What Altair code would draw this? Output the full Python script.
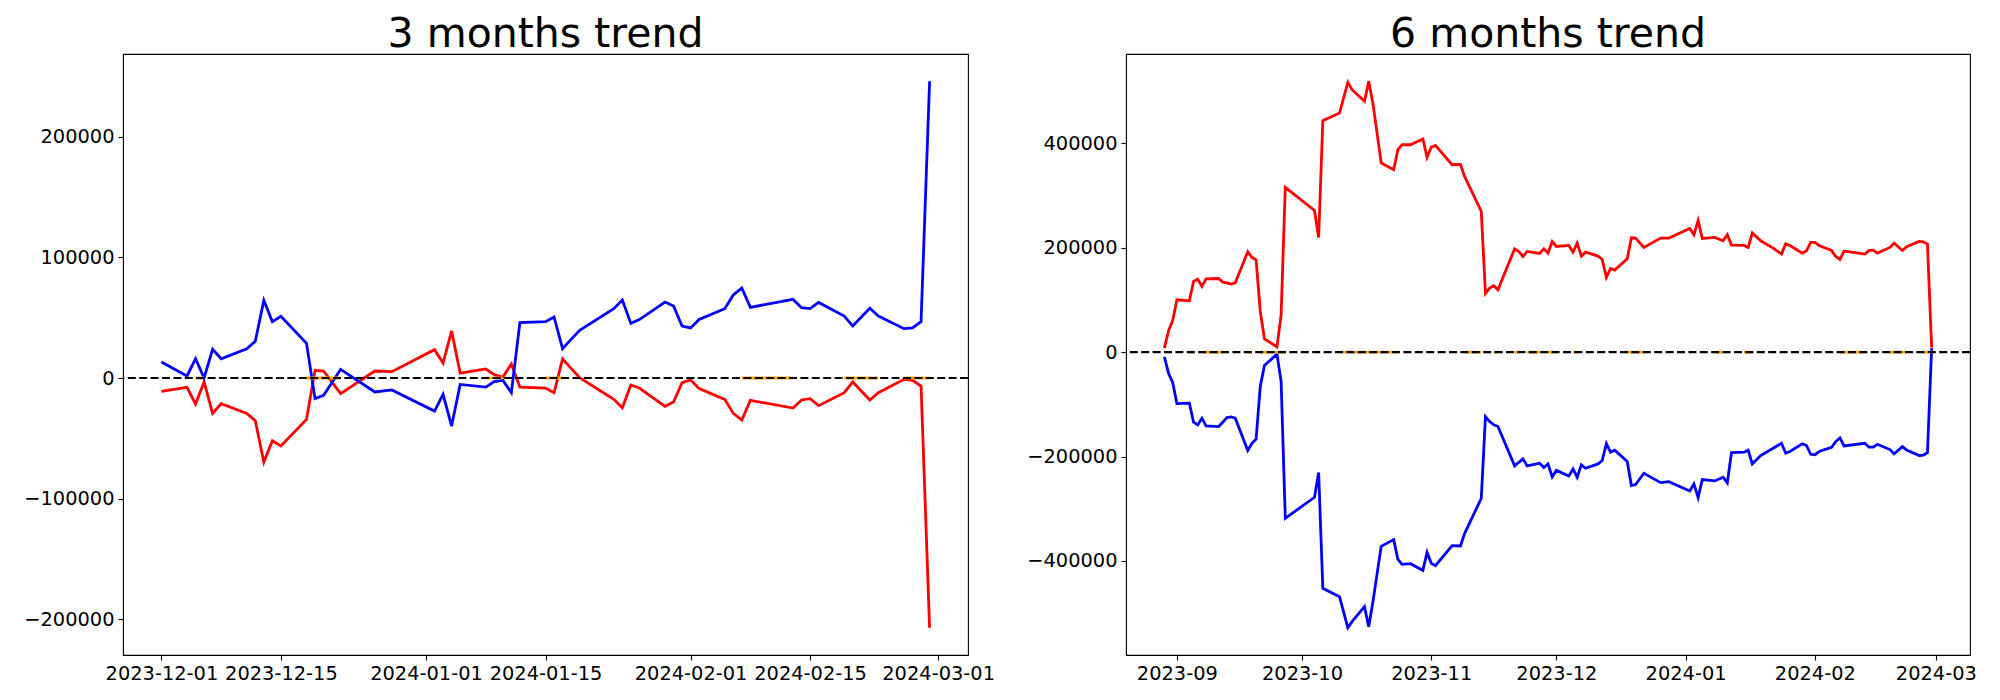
import altair as alt
import pandas as pd
from datetime import datetime, timedelta

# ---------------- 3 months panel ----------------
left_dates = ["2023-12-01", "2023-12-04", "2023-12-05", "2023-12-06", "2023-12-07", "2023-12-08",
              "2023-12-11", "2023-12-12", "2023-12-13", "2023-12-14", "2023-12-15", "2023-12-18",
              "2023-12-19", "2023-12-20", "2023-12-22", "2023-12-26", "2023-12-28",
              "2024-01-02", "2024-01-03", "2024-01-04", "2024-01-05", "2024-01-08", "2024-01-09",
              "2024-01-10", "2024-01-11", "2024-01-12", "2024-01-15", "2024-01-16", "2024-01-17",
              "2024-01-18", "2024-01-19", "2024-01-23", "2024-01-24", "2024-01-25", "2024-01-26",
              "2024-01-29", "2024-01-30", "2024-01-31", "2024-02-01",
              "2024-02-02", "2024-02-05", "2024-02-06", "2024-02-07", "2024-02-08", "2024-02-13",
              "2024-02-14", "2024-02-15", "2024-02-16", "2024-02-19", "2024-02-20", "2024-02-22",
              "2024-02-23", "2024-02-26", "2024-02-27", "2024-02-28", "2024-02-29"]
left_blue = [13300, 1700, 16000, 0, 23800, 16000, 24300, 30400, 64400, 46700, 51100, 28700,
             -17100, -14400, 7200, -11600, -9900,
             -27400, -13500, -39800, -5300, -7500, -3000, -1900, -12200, 45900, 46700, 50600,
             24300, 32000, 39500, 57500, 64700, 45300, 48400, 63000, 59700, 43100, 41500,
             48600, 57500, 68800, 74600, 58600, 65200, 58300, 57500, 62700, 51400, 43100,
             57800, 51400, 40900, 41500, 46700, 246000]
left_red = [-11100, -7700, -21600, -3300, -29300, -21300, -29300, -35400, -69700, -52000, -56400,
            -34300, 6400, 5800, -13000, 5800, 5300,
            23500, 12400, 39000, 4100, 7500, 2800, 800, 11600, -7500, -8300, -12200, 15800,
            8000, 300, -17700, -24600, -5800, -8300, -23500, -19900, -3900, -1500,
            -8800, -17700, -29300, -34800, -18500, -24900, -18200, -17100, -22900, -12200,
            -3300, -18200, -12200, -1100, -1900, -6600, -207000]
left_orange_runs = [["2023-12-05", "2023-12-06"], ["2023-12-18", "2023-12-22"],
                    ["2024-01-08", "2024-01-10"], ["2024-01-15", "2024-01-17"],
                    ["2024-02-07", "2024-02-13"], ["2024-02-19", "2024-02-23"],
                    ["2024-02-26", "2024-02-29"]]
left_yticks = [-200000, -100000, 0, 100000, 200000]
left_xticks = ["2023-12-01", "2023-12-15", "2024-01-01", "2024-01-15", "2024-02-01",
               "2024-02-15", "2024-03-01"]

# ---------------- 6 months panel ----------------
right_dates = ["2023-08-29", "2023-08-30", "2023-08-31",
               "2023-09-01", "2023-09-04", "2023-09-05", "2023-09-06", "2023-09-07", "2023-09-08",
               "2023-09-11", "2023-09-12", "2023-09-13", "2023-09-14", "2023-09-15", "2023-09-18",
               "2023-09-19", "2023-09-20", "2023-09-21", "2023-09-22", "2023-09-25", "2023-09-26",
               "2023-09-27",
               "2023-10-04", "2023-10-05", "2023-10-06", "2023-10-10", "2023-10-12", "2023-10-13",
               "2023-10-16", "2023-10-17", "2023-10-18", "2023-10-20", "2023-10-23", "2023-10-24",
               "2023-10-25", "2023-10-27", "2023-10-30", "2023-10-31",
               "2023-11-01", "2023-11-02", "2023-11-06", "2023-11-08", "2023-11-09", "2023-11-13",
               "2023-11-14", "2023-11-15", "2023-11-16", "2023-11-17", "2023-11-21", "2023-11-22",
               "2023-11-23", "2023-11-24", "2023-11-27", "2023-11-28", "2023-11-29", "2023-11-30",
               "2023-12-01", "2023-12-04", "2023-12-05", "2023-12-06", "2023-12-07", "2023-12-08",
               "2023-12-11", "2023-12-12", "2023-12-13", "2023-12-14", "2023-12-15", "2023-12-18",
               "2023-12-19", "2023-12-20", "2023-12-22", "2023-12-26", "2023-12-28",
               "2024-01-02", "2024-01-03", "2024-01-04", "2024-01-05", "2024-01-08", "2024-01-10",
               "2024-01-11", "2024-01-12", "2024-01-15", "2024-01-16", "2024-01-17", "2024-01-19",
               "2024-01-22", "2024-01-24", "2024-01-25", "2024-01-26", "2024-01-29", "2024-01-30",
               "2024-01-31",
               "2024-02-01", "2024-02-02", "2024-02-05", "2024-02-06", "2024-02-07", "2024-02-08",
               "2024-02-13", "2024-02-14", "2024-02-15", "2024-02-16", "2024-02-19", "2024-02-20",
               "2024-02-22", "2024-02-23", "2024-02-26", "2024-02-27", "2024-02-28", "2024-02-29"]
right_red = [7700, 40900, 60700,
             100300, 98400, 135500, 140000, 125900, 140600, 141200, 134200, 132900, 130400,
             132900, 192400, 181500, 177000, 78000, 25600, 10200, 71600, 315700,
             271600, 219900, 443500, 458200, 517000, 503000, 480600, 519000, 477400, 362400,
             349600, 387900, 397500, 397500, 408400, 373200,
             393000, 396200, 359200, 359800, 336800, 269700, 112500, 122700, 127200, 119500,
             198100, 193000, 183400, 193000, 189200, 198100, 189800, 212200,
             202600, 204500, 191700, 209000, 184100, 191700, 184100, 177700, 143200, 160400,
             157200, 179000, 219200, 218600, 200700, 218600, 218600,
             237100, 225000, 252400, 217900, 219900, 213500, 225000, 205200, 204500, 200700,
             228800, 213500, 199400, 187900, 207700, 204500, 189800, 194300, 210300,
             210300, 204500, 194900, 183400, 177700, 193600, 187900, 194900, 195600, 189800,
             200700, 209000, 194900, 201900, 212200, 211500, 207100, 8900]
right_blue = [-8900, -40300, -58200,
              -98400, -97800, -134200, -139300, -126500, -141200, -142500, -134200, -125300,
              -124000, -126500, -188500, -174500, -166800, -65800, -25600, -3800, -56200, -318300,
              -278000, -230700, -452500, -468500, -527900, -516400, -487600, -526000, -479300,
              -372000, -359200, -396900, -406500, -405200, -418000, -383500,
              -404600, -409000, -370700, -371300, -347700, -279900, -123300, -132900, -139300,
              -142500, -217900, -211000, -204500, -217900, -212800, -221100, -214100, -239000,
              -226500, -237100, -223700, -239700, -216000, -222400, -214100, -207700, -175100,
              -191700, -187900, -209600, -255600, -253700, -232000, -249900, -248000,
              -265900, -252400, -278600, -244100, -246700, -239700, -250500, -192400, -191700,
              -187900, -214100, -198100, -184100, -174500, -193600, -190400, -175800, -178900,
              -195600,
              -196800, -190400, -182100, -171300, -164200, -179600, -174500, -182100, -182100,
              -176400, -186600, -194900, -180900, -187300, -198100, -197500, -192400, 7700]
right_orange_runs = [["2023-09-04", "2023-09-05"], ["2023-09-07", "2023-09-12"],
                     ["2023-09-18", "2023-09-19"], ["2023-09-21", "2023-09-27"],
                     ["2023-10-10", "2023-10-24"], ["2023-11-09", "2023-11-13"],
                     ["2023-11-16", "2023-11-17"], ["2023-11-21", "2023-11-22"],
                     ["2023-11-24", "2023-11-27"], ["2023-11-29", "2023-12-01"],
                     ["2023-12-05", "2023-12-06"], ["2023-12-18", "2023-12-22"],
                     ["2024-01-08", "2024-01-10"], ["2024-01-15", "2024-01-17"],
                     ["2024-02-07", "2024-02-13"], ["2024-02-19", "2024-02-23"],
                     ["2024-02-27", "2024-02-29"]]
right_yticks = [-400000, -200000, 0, 200000, 400000]
right_xticks = ["2023-09-01", "2023-10-01", "2023-11-01", "2023-12-01", "2024-01-01",
                "2024-02-01", "2024-03-01"]

FONT = "DejaVu Sans"


def dt_obj(d):
    return alt.DateTime(year=d.year, month=d.month, date=d.day,
                        hours=d.hour, minutes=d.minute, seconds=d.second)


def parse(s):
    return datetime.strptime(s, "%Y-%m-%d")


def panel(title, dates, red, blue, runs, yticks, xticks, xfmt, width, height, yext):
    d0, d1 = parse(dates[0]), parse(dates[-1])
    span = d1 - d0
    xdom = [dt_obj(d0 - span * 0.05), dt_obj(d1 + span * 0.05)]
    vals = red + blue
    lo, hi = min(vals), max(vals)
    pad = (hi - lo) * 0.05
    ydom = [lo - pad, hi + pad]

    x_enc = alt.X("date:T", title=None,
                  scale=alt.Scale(domain=xdom, nice=False),
                  axis=alt.Axis(values=[dt_obj(parse(t)) for t in xticks], format=xfmt,
                                labelOverlap=False, labelFlush=False, grid=False))
    y_enc = alt.Y("value:Q", title=None,
                  scale=alt.Scale(domain=ydom, nice=False, zero=False),
                  axis=alt.Axis(values=yticks, format="d", minExtent=yext, maxExtent=yext,
                                grid=False))

    iso = [d + "T00:00:00" for d in dates]
    red_df = pd.DataFrame({"date": iso, "value": red})
    blue_df = pd.DataFrame({"date": iso, "value": blue})
    orows = []
    for i, (a, b) in enumerate(runs):
        orows.append({"date": a + "T00:00:00", "value": 0, "run": i})
        orows.append({"date": b + "T00:00:00", "value": 0, "run": i})
    orange_df = pd.DataFrame(orows)
    zero_df = pd.DataFrame({"value": [0]})

    red_l = alt.Chart(red_df).mark_line(color="#ff0000", strokeWidth=2.8).encode(x=x_enc, y=y_enc)
    blue_l = alt.Chart(blue_df).mark_line(color="#0000ff", strokeWidth=2.8).encode(x=x_enc, y=y_enc)
    orange_l = alt.Chart(orange_df).mark_line(color="#ffa500", strokeWidth=2.8).encode(
        x=x_enc, y=y_enc, detail="run:N")
    zero_l = alt.Chart(zero_df).mark_rule(color="black", strokeWidth=2.2,
                                          strokeDash=[8, 3.4]).encode(y=alt.Y("value:Q"))

    return alt.layer(red_l, blue_l, orange_l, zero_l).properties(
        width=width, height=height,
        title=alt.Title(title, fontSize=41, font=FONT, fontWeight="normal",
                        anchor="middle", color="black", offset=-2))


left = panel("3 months trend", left_dates, left_red, left_blue, left_orange_runs,
             left_yticks, left_xticks, "%Y-%m-%d", 845, 601, 114)
right = panel("6 months trend", right_dates, right_red, right_blue, right_orange_runs,
              right_yticks, right_xticks, "%Y-%m", 844, 601, 100)

chart = alt.hconcat(left, right, spacing=158, bounds="flush").properties(
    padding={"left": 0, "top": 5, "right": 0, "bottom": 0},
    background="white"
).configure_axis(
    domain=False, grid=False, ticks=True, tickColor="black", tickWidth=1.1, tickSize=5,
    labelFont=FONT, labelFontSize=19.4, labelColor="black", labelPadding=4
).configure_view(
    stroke="black", strokeWidth=1.1
)

chart.save("out.html", embed_options={"renderer": "svg", "actions": False})
